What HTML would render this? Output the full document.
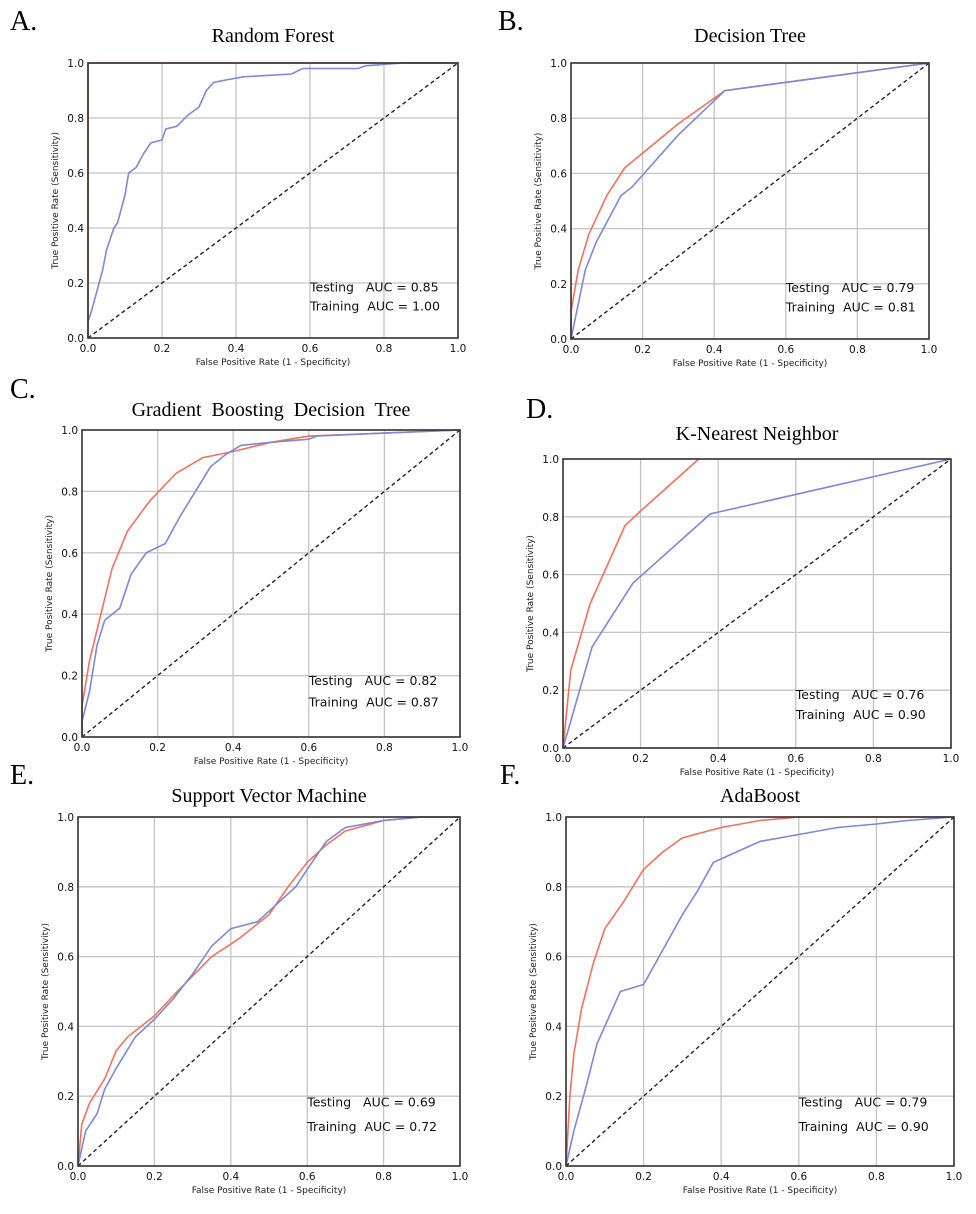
<!DOCTYPE html>
<html><head><meta charset="utf-8"><style>
body{margin:0;background:#fff}
svg{display:block}
</style></head><body>
<svg id="fig" width="976" height="1214" viewBox="0 0 976 1214" xmlns="http://www.w3.org/2000/svg"></svg>
<script>
const panelLetters=["A.","B.","C.","D.","E.","F."];
const panelTitles=["Random Forest","Decision Tree","Gradient  Boosting  Decision  Tree","K-Nearest Neighbor","Support Vector Machine","AdaBoost"];
const testAUC=["0.85","0.79","0.82","0.76","0.69","0.79"];
const trainAUC=["1.00","0.81","0.87","0.90","0.72","0.90"];
const tickLabels=["0.0","0.2","0.4","0.6","0.8","1.0"];
const tickValues=[0,0.2,0.4,0.6,0.8,1.0];
const testA=[[0,0],[0,0.06],[0.01,0.1],[0.02,0.15],[0.03,0.2],[0.04,0.25],[0.05,0.32],[0.07,0.4],[0.08,0.42],[0.09,0.47],[0.1,0.52],[0.11,0.6],[0.13,0.62],[0.15,0.67],[0.17,0.71],[0.2,0.72],[0.21,0.76],[0.24,0.77],[0.27,0.81],[0.3,0.84],[0.32,0.9],[0.34,0.93],[0.38,0.94],[0.42,0.95],[0.55,0.96],[0.58,0.98],[0.73,0.98],[0.75,0.99],[0.85,1],[1,1]];
const trainA=[[0,0],[0,1],[1,1]];
const testB=[[0,0],[0.04,0.25],[0.07,0.35],[0.14,0.52],[0.17,0.55],[0.3,0.74],[0.43,0.9],[1,1]];
const trainB=[[0,0],[0,0.1],[0.02,0.25],[0.05,0.38],[0.1,0.52],[0.15,0.62],[0.3,0.78],[0.43,0.9],[1,1]];
const testC=[[0,0],[0,0.05],[0.02,0.15],[0.04,0.3],[0.06,0.38],[0.1,0.42],[0.13,0.53],[0.17,0.6],[0.22,0.63],[0.26,0.72],[0.3,0.8],[0.34,0.88],[0.38,0.92],[0.42,0.95],[0.5,0.96],[0.6,0.97],[0.62,0.98],[0.8,0.99],[1,1]];
const trainC=[[0,0],[0,0.1],[0.02,0.25],[0.05,0.4],[0.08,0.55],[0.12,0.67],[0.18,0.77],[0.25,0.86],[0.32,0.91],[0.4,0.93],[0.5,0.96],[0.6,0.98],[0.8,0.99],[1,1]];
const testD=[[0,0],[0.075,0.35],[0.18,0.57],[0.38,0.81],[1,1]];
const trainD=[[0,0],[0.02,0.27],[0.07,0.5],[0.16,0.77],[0.2,0.82],[0.35,1.0]];
const testE=[[0,0],[0.02,0.1],[0.05,0.15],[0.07,0.22],[0.1,0.28],[0.15,0.37],[0.18,0.4],[0.2,0.42],[0.25,0.48],[0.3,0.55],[0.35,0.63],[0.4,0.68],[0.47,0.7],[0.52,0.75],[0.57,0.8],[0.6,0.85],[0.65,0.93],[0.7,0.97],[0.8,0.99],[0.9,1],[1,1]];
const trainE=[[0,0],[0.01,0.12],[0.03,0.18],[0.07,0.25],[0.1,0.33],[0.13,0.37],[0.2,0.43],[0.26,0.5],[0.35,0.6],[0.42,0.65],[0.5,0.72],[0.55,0.8],[0.6,0.87],[0.65,0.92],[0.7,0.96],[0.8,0.99],[0.9,1],[1,1]];
const testF=[[0,0],[0.02,0.1],[0.05,0.22],[0.08,0.35],[0.1,0.4],[0.14,0.5],[0.2,0.52],[0.25,0.62],[0.3,0.72],[0.34,0.79],[0.38,0.87],[0.44,0.9],[0.5,0.93],[0.6,0.95],[0.7,0.97],[0.8,0.98],[0.88,0.99],[1,1]];
const trainF=[[0,0],[0.01,0.2],[0.02,0.32],[0.04,0.45],[0.07,0.58],[0.1,0.68],[0.15,0.76],[0.2,0.85],[0.25,0.9],[0.3,0.94],[0.4,0.97],[0.5,0.99],[0.6,1],[1,1]];
const testSeries=[testA,testB,testC,testD,testE,testF];
const trainSeries=[trainA,trainB,trainC,trainD,trainE,trainF];
// layout: [left,top,right,bottom,titleY,letterX,letterY]
const boxes=[[88,63,458,338,42,10,30],[571,63,929,339,42,498,30],[82,430,460,737,416,10,398],[563,459,951,748,440,526,418],[78,817,460,1166,802,10,784],[566,817,954,1166,802,500,784]];
const NS="http://www.w3.org/2000/svg";
const svg=document.getElementById('fig');
function mk(tag,attrs,parent,text){const e=document.createElementNS(NS,tag);for(const k in attrs)e.setAttribute(k,attrs[k]);if(text!==undefined)e.textContent=text;parent.appendChild(e);return e;}
const slugs=["a","b","c","d","e","f"];
boxes.forEach((b,i)=>{
  const [L,T,R,B,ty,lx,ly]=b;
  const sx=v=>L+v*(R-L), sy=v=>B-v*(B-T);
  const g=mk('g',{},svg);
  
  
  const lt=mk('text',{x:lx,y:ly,'font-family':'Liberation Serif, serif','font-size':28},g,panelLetters[i]);
  
  
  const tt=mk('text',{x:(L+R)/2,y:ty,'text-anchor':'middle','font-family':'Liberation Serif, serif','font-size':20,style:'white-space:pre'},g,panelTitles[i]);
  
  
  tickValues.forEach((v,k)=>{
    const gx=mk('line',{x1:sx(v),x2:sx(v),y1:T,y2:B,stroke:'#c4c4c4','stroke-width':1.3},g);
    
    
    const gy=mk('line',{x1:L,x2:R,y1:sy(v),y2:sy(v),stroke:'#c4c4c4','stroke-width':1.3},g);
    
    
    const xl=mk('text',{x:sx(v),y:B+14,'text-anchor':'middle','font-family':'DejaVu Sans, sans-serif','font-size':10.5,fill:'#111'},g,tickLabels[k]);
    
    
    const yl=mk('text',{x:L-4,y:sy(v)+4,'text-anchor':'end','font-family':'DejaVu Sans, sans-serif','font-size':10.5,fill:'#111'},g,tickLabels[k]);
    
    
  });
  const xt=mk('text',{x:(L+R)/2,y:B+27,'text-anchor':'middle','font-family':'DejaVu Sans, sans-serif','font-size':9,fill:'#222'},g,'False Positive Rate (1 - Specificity)');
  
  
  const yx=L-30,yy=(T+B)/2;
  const yt=mk('text',{x:yx,y:yy,'text-anchor':'middle','font-family':'DejaVu Sans, sans-serif','font-size':9,fill:'#222',transform:`rotate(-90 ${yx} ${yy})`},g,'True Positive Rate (Sensitivity)');
  
  
  const dg=mk('line',{x1:sx(0),y1:sy(0),x2:sx(1),y2:sy(1),stroke:'#222','stroke-width':1.4,'stroke-dasharray':'4,3'},g);
  
  
  const pts=a=>a.map(p=>sx(p[0]).toFixed(1)+','+sy(p[1]).toFixed(1)).join(' ');
  const tr=mk('polyline',{points:pts(trainSeries[i]),fill:'none',stroke:'#f2705c','stroke-width':1.6},g);
  
  
  const te=mk('polyline',{points:pts(testSeries[i]),fill:'none',stroke:'#7d88d6','stroke-width':1.6},g);
  
  
  const fr=mk('rect',{x:L,y:T,width:R-L,height:B-T,fill:'none',stroke:'#333','stroke-width':1.6},g);
  
  
  const a1=mk('text',{x:sx(0.6),y:sy(0.17),'font-family':'DejaVu Sans, sans-serif','font-size':12.5,fill:'#111',style:'white-space:pre'},g,'Testing   AUC = '+testAUC[i]);
  
  
  const a2=mk('text',{x:sx(0.6),y:sy(0.1),'font-family':'DejaVu Sans, sans-serif','font-size':12.5,fill:'#111',style:'white-space:pre'},g,'Training  AUC = '+trainAUC[i]);
  
  
});
</script>
</body></html>
